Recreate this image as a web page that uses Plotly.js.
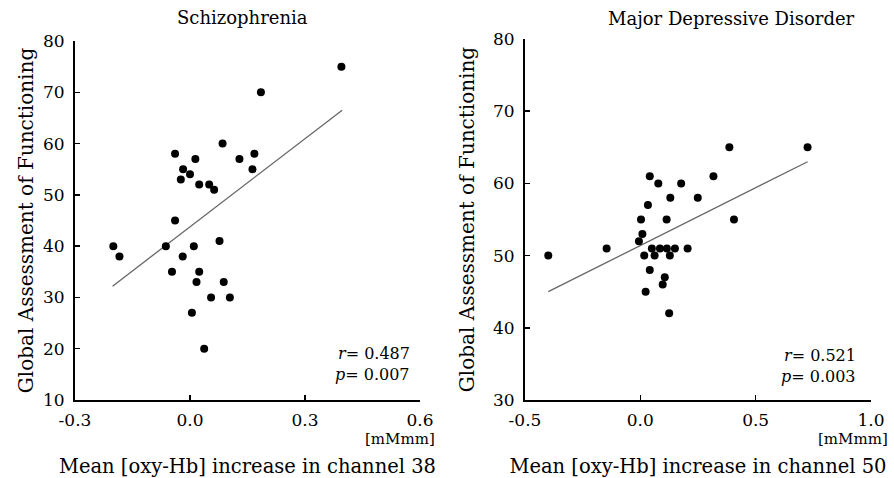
<!DOCTYPE html>
<html>
<head>
<meta charset="utf-8">
<script src="https://cdn.plot.ly/plotly-3.0.1.min.js"></script>
<style>html,body{margin:0;padding:0;background:#fff;}#chart{width:894px;height:478px;}</style>
</head>
<body>
<div id="chart"></div>
<script>
// Schizophrenia (channel 38)
const szX = [0.395, 0.185, 0.085, -0.039, 0.014, 0.129, 0.168, 0.163, -0.018, -0.024, 0.000, 0.024, 0.050, 0.063, -0.039, -0.200, -0.184, -0.063, 0.010, 0.077, -0.019, -0.047, 0.024, 0.017, 0.088, 0.055, 0.104, 0.005, 0.037];
const szY = [75, 70, 60, 58, 57, 57, 58, 55, 55, 53, 54, 52, 52, 51, 45, 40, 38, 40, 40, 41, 38, 35, 35, 33, 33, 30, 30, 27, 20];
const szFitX = [-0.202, 0.397];
const szFitY = [32.2, 66.5];
// Major Depressive Disorder (channel 50)
const mddX = [0.725, 0.386, 0.041, 0.317, 0.078, 0.177, 0.130, 0.249, 0.033, 0.003, 0.114, 0.406, 0.009, -0.006, -0.146, 0.050, 0.085, 0.115, 0.150, 0.205, 0.017, 0.062, 0.128, -0.399, 0.041, 0.106, 0.097, 0.023, 0.125];
const mddY = [65, 65, 61, 61, 60, 60, 58, 58, 57, 55, 55, 55, 53, 52, 51, 51, 51, 51, 51, 51, 50, 50, 50, 50, 48, 47, 46, 45, 42];
const mddFitX = [-0.399, 0.725];
const mddFitY = [45.0, 63.0];

const szXTicks = [-0.3, 0.0, 0.3, 0.6];
const szXLabels = ['-0.3', '0.0', '0.3', '0.6'];
const szYTicks = [10, 20, 30, 40, 50, 60, 70, 80];
const mddXTicks = [-0.5, 0.0, 0.5, 1.0];
const mddXLabels = ['-0.5', '0.0', '0.5', '1.0'];
const mddYTicks = [30, 40, 50, 60, 70, 80];

const panelTitles = ['Schizophrenia', 'Major Depressive Disorder'];
const xTitles = ['Mean [oxy-Hb] increase in channel 38', 'Mean [oxy-Hb] increase in channel 50'];
const yTitle = 'Global Assessment of Functioning';
const unitLabel = '[mMmm]';
const stats = [['0.487', '0.007'], ['0.521', '0.003']];

const FONT = 'DejaVu Serif, Liberation Serif, serif';

const traces = [
  {x: szFitX, y: szFitY, xaxis: 'x', yaxis: 'y', mode: 'lines', line: {color: '#666', width: 1.3}, hoverinfo: 'skip'},
  {x: szX, y: szY, xaxis: 'x', yaxis: 'y', mode: 'markers', marker: {color: '#000', size: 8}},
  {x: mddFitX, y: mddFitY, xaxis: 'x2', yaxis: 'y2', mode: 'lines', line: {color: '#666', width: 1.3}, hoverinfo: 'skip'},
  {x: mddX, y: mddY, xaxis: 'x2', yaxis: 'y2', mode: 'markers', marker: {color: '#000', size: 8}}
];

function axisBase() {
  return {
    showgrid: false, zeroline: false, showline: true, linecolor: '#000', linewidth: 2,
    ticks: 'inside', ticklen: 5, tickwidth: 1.5, tickcolor: '#000',
    tickfont: {family: FONT, size: 17, color: '#000'}, fixedrange: true
  };
}

const layout = {
  width: 894, height: 478,
  margin: {l: 75, r: 23, t: 39, b: 78},
  paper_bgcolor: '#fff', plot_bgcolor: '#fff',
  showlegend: false,
  font: {family: FONT, color: '#000'},
  xaxis: Object.assign(axisBase(), {
    domain: [0, 0.4334], anchor: 'y', range: [-0.3, 0.6],
    tickmode: 'array', tickvals: szXTicks, ticktext: szXLabels, ticklabelstandoff: 4,
    title: {text: xTitles[0], font: {family: FONT, size: 19.5}, standoff: 30}
  }),
  yaxis: Object.assign(axisBase(), {
    domain: [0, 0.9945], anchor: 'x', range: [10, 80],
    tickmode: 'array', tickvals: szYTicks, ticklabelstandoff: 5,
    title: {text: yTitle, font: {family: FONT, size: 20}, standoff: 4}
  }),
  xaxis2: Object.assign(axisBase(), {
    domain: [0.5653, 1], anchor: 'y2', range: [-0.5, 1.0],
    tickmode: 'array', tickvals: mddXTicks, ticktext: mddXLabels, ticklabelstandoff: 4,
    title: {text: xTitles[1], font: {family: FONT, size: 19.5}, standoff: 30}
  }),
  yaxis2: Object.assign(axisBase(), {
    domain: [0, 1], anchor: 'x2', range: [30, 80],
    tickmode: 'array', tickvals: mddYTicks, ticklabelstandoff: 5,
    title: {text: yTitle, font: {family: FONT, size: 20}, standoff: 13}
  }),
  annotations: [
    {text: panelTitles[0], xref: 'x domain', yref: 'y domain', x: 0.5, y: 1, xshift: -5, yshift: 23, yanchor: 'middle', showarrow: false, font: {family: FONT, size: 18}},
    {text: panelTitles[1], xref: 'x2 domain', yref: 'y2 domain', x: 0.5, y: 1, xshift: 34, yshift: 21, yanchor: 'middle', showarrow: false, font: {family: FONT, size: 18}},
    {text: unitLabel, xref: 'x domain', yref: 'y domain', x: 1, y: 0, xanchor: 'right', yanchor: 'middle', xshift: 17, yshift: -39, showarrow: false, font: {family: FONT, size: 15}},
    {text: unitLabel, xref: 'x2 domain', yref: 'y2 domain', x: 1, y: 0, xanchor: 'right', yanchor: 'middle', xshift: 19, yshift: -39, showarrow: false, font: {family: FONT, size: 15}},
    {text: '<i>r</i>= ' + stats[0][0], xref: 'x', yref: 'y', x: 0.579, y: 19.0, xanchor: 'right', yanchor: 'middle', showarrow: false, font: {family: FONT, size: 16}},
    {text: '<i>p</i>= ' + stats[0][1], xref: 'x', yref: 'y', x: 0.579, y: 14.9, xanchor: 'right', yanchor: 'middle', showarrow: false, font: {family: FONT, size: 16}},
    {text: '<i>r</i>= ' + stats[1][0], xref: 'x2', yref: 'y2', x: 0.944, y: 36.1, xanchor: 'right', yanchor: 'middle', showarrow: false, font: {family: FONT, size: 16}},
    {text: '<i>p</i>= ' + stats[1][1], xref: 'x2', yref: 'y2', x: 0.944, y: 33.2, xanchor: 'right', yanchor: 'middle', showarrow: false, font: {family: FONT, size: 16}}
  ]
};

Plotly.newPlot('chart', traces, layout, {displayModeBar: false, staticPlot: true});
</script>
</body>
</html>
